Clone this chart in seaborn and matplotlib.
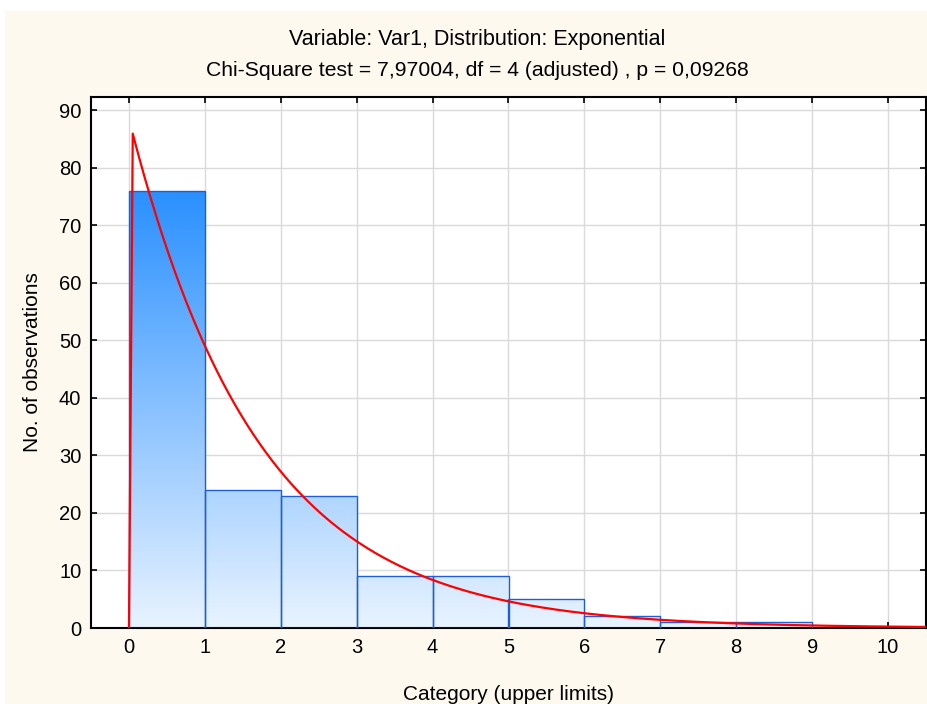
import numpy as np
import pandas as pd
import matplotlib
matplotlib.use("Agg")
import matplotlib.pyplot as plt
import seaborn as sns
from matplotlib.patches import Rectangle
from matplotlib.colors import LinearSegmentedColormap

# ---- data ----
bin_edges = [0, 1, 2, 3, 4, 5, 6, 7, 8, 9, 10]
counts = [76, 24, 23, 9, 9, 5, 2, 1, 1, 0]
n_obs = 150
rate = 0.59  # fitted exponential lambda
title1 = "Variable: Var1, Distribution: Exponential"
title2 = "Chi-Square test = 7,97004, df = 4 (adjusted) , p = 0,09268"
x_ticks = [0, 1, 2, 3, 4, 5, 6, 7, 8, 9, 10]
y_ticks = [0, 10, 20, 30, 40, 50, 60, 70, 80, 90]

sns.set_theme(style="white")
plt.rcParams['font.family'] = ['Liberation Sans', 'DejaVu Sans']

W, H = 928, 704
fig = plt.figure(figsize=(W / 100, H / 100), dpi=100, facecolor="white")
fig.patches.append(Rectangle((5 / W, 0), 1, 1 - 11 / H, transform=fig.transFigure,
                             facecolor="#FEF9EE", edgecolor="none", zorder=-10))

ax = fig.add_axes([91 / W, (H - 628) / H, (926 - 91) / W, (628 - 97) / H])
ax.set_facecolor("white")

centers = [(bin_edges[i] + bin_edges[i + 1]) / 2 for i in range(len(counts))]
df = pd.DataFrame({"x": centers, "w": counts})
sns.histplot(data=df, x="x", weights="w", bins=bin_edges, ax=ax,
             element="bars", fill=True, edgecolor="#1F5FD6", linewidth=1.0,
             facecolor="none", zorder=3)

ymax = 92.3
cmap = LinearSegmentedColormap.from_list("g", ["#E8F3FF", "#2A90FF"])
grad = np.linspace(0, 1, 256).reshape(-1, 1)
grad = np.clip(grad * ymax / 76.0, 0, 1)
for p in list(ax.patches):
    p.set_facecolor("none")
    p.set_zorder(3)
    x0 = p.get_x()
    w = p.get_width()
    if p.get_height() <= 0:
        p.set_visible(False)
        continue
    im = ax.imshow(grad, cmap=cmap, vmin=0, vmax=1, origin="lower", aspect="auto",
                   extent=[x0, x0 + w, 0, ymax], zorder=2, interpolation="bilinear")
    im.set_clip_path(p)

# fitted exponential curve (expected counts per unit bin)
xs = np.concatenate([[0.0], np.linspace(0.05, 10.6, 400)])
ys = np.concatenate([[0.0], n_obs * rate * np.exp(-rate * np.linspace(0.05, 10.6, 400))])
sns.lineplot(x=xs, y=ys, ax=ax, color="red", linewidth=1.6, sort=False, zorder=4)

ax.set_xlim(-0.5, 10.5)
ax.set_ylim(0, ymax)
ax.set_xticks(x_ticks)
ax.set_yticks(y_ticks)
ax.grid(True, color="#DADADA", linewidth=1.0, zorder=0)
ax.set_axisbelow(True)
for s in ax.spines.values():
    s.set_color("black")
    s.set_linewidth(1.5)
    s.set_visible(True)
ax.tick_params(axis="both", direction="in", length=4, width=1.2, color="black",
               labelsize=14.5, labelcolor="black", top=True, right=True,
               bottom=True, left=True, labeltop=False, labelright=False, pad=7)
ax.set_xlabel("Category (upper limits)", fontsize=15, color="black", labelpad=20)
ax.set_ylabel("No. of observations", fontsize=15, color="black", labelpad=12)

fig.text(477 / W, 1 - 39 / H, title1, ha="center", va="center", fontsize=15.5, color="black")
fig.text(477 / W, 1 - 71 / H, title2, ha="center", va="center", fontsize=15.2, color="black")

fig.savefig("out.png", dpi=100, facecolor=fig.get_facecolor())
